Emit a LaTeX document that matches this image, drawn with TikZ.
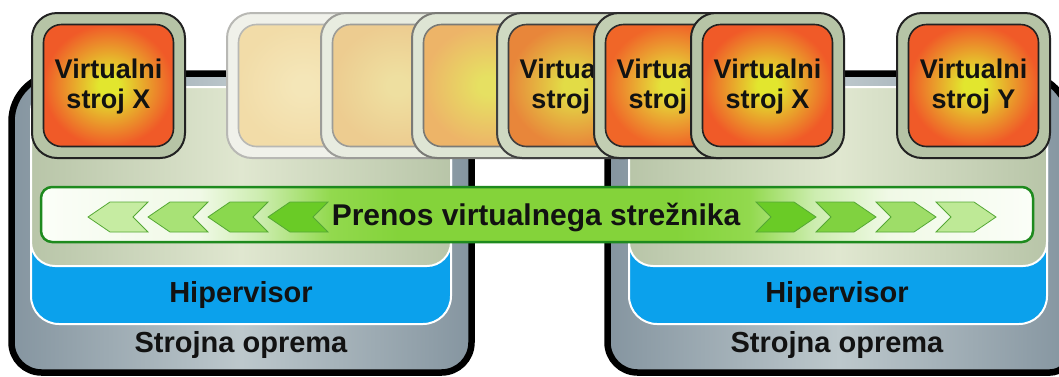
\documentclass[tikz,border=0pt]{standalone}
\usepackage{fontspec}
\setmainfont{Liberation Sans}

% hardware, hypervisor and VM layer colours
\definecolor{hwedge}{HTML}{8595A0}
\definecolor{hwmid}{HTML}{BDC8CC}
\definecolor{layeredge}{HTML}{B8C5A8}
\definecolor{layermid}{HTML}{E0E7D0}
\definecolor{hvblue}{HTML}{0BA1EC}
% migration banner
\definecolor{bannerline}{HTML}{1E8A1E}
\definecolor{chevline}{HTML}{55A835}
\definecolor{bnA}{HTML}{FBFEF8}
\definecolor{bnB}{HTML}{F0F9E6}
\definecolor{bnC}{HTML}{CDEDB0}
\definecolor{bnD}{HTML}{92D94E}
\definecolor{bnE}{HTML}{84D33A}
\definecolor{chevA}{HTML}{C6ECA2}
\definecolor{chevB}{HTML}{A8E276}
\definecolor{chevC}{HTML}{8AD84E}
\definecolor{chevD}{HTML}{6ACB26}
\definecolor{chevE}{HTML}{80D240}
\definecolor{chevF}{HTML}{9EDD68}
\definecolor{chevG}{HTML}{BEE996}
% virtual machine boxes, from faint copies to the solid machine
\definecolor{frX}{HTML}{B6C4A6}\definecolor{lnX}{HTML}{222222}
\definecolor{coreX}{HTML}{F05A28}\definecolor{midX}{HTML}{E2E62E}
\definecolor{frA}{HTML}{F0F1EA}\definecolor{lnA}{HTML}{B8B8B4}
\definecolor{coreA}{HTML}{F2DCA8}\definecolor{midA}{HTML}{F4E6B8}
\definecolor{frB}{HTML}{E8ECE0}\definecolor{lnB}{HTML}{9C9C98}
\definecolor{coreB}{HTML}{EDCC90}\definecolor{midB}{HTML}{EEDFA0}
\definecolor{frC}{HTML}{DEE5D4}\definecolor{lnC}{HTML}{7A7A76}
\definecolor{coreC}{HTML}{EDB468}\definecolor{midC}{HTML}{E6E062}
\definecolor{frD}{HTML}{CFD9C2}\definecolor{lnD}{HTML}{404040}
\definecolor{coreD}{HTML}{E8863A}\definecolor{midD}{HTML}{E2DC46}
\definecolor{frE}{HTML}{C2CEB2}\definecolor{lnE}{HTML}{2A2A2A}
\definecolor{coreE}{HTML}{F06628}\definecolor{midE}{HTML}{E4E23A}
\colorlet{vmin}{midX}
\colorlet{vmout}{coreX}

\pgfdeclarehorizontalshading{bannerfill}{100bp}{%
  color(0bp)=(bnA); color(25bp)=(bnA); color(33bp)=(bnB); color(36bp)=(bnC);
  color(39.6bp)=(bnD); color(43bp)=(bnE); color(57bp)=(bnE); color(60.7bp)=(bnD);
  color(64bp)=(bnC); color(67.7bp)=(bnB); color(75bp)=(bnA); color(100bp)=(bnA)}

\pgfdeclareradialshading[vmin,vmout]{vmglow}{\pgfpoint{0bp}{0bp}}{%
  color(0bp)=(vmin); color(4bp)=(vmin); color(25bp)=(vmout); color(50bp)=(vmout)}

\tikzset{
  hwbox/.style={draw=black, line width=6.5pt, left color=hwedge, right color=hwedge, middle color=hwmid},
  hvband/.style={draw=white, line width=2pt, fill=hvblue, rounded corners=28pt},
  vmlayer/.style={draw=white, line width=2pt, left color=layeredge, right color=layeredge,
    middle color=layermid, rounded corners=24pt},
  vmframe/.style={rectangle, rounded corners=25pt, line width=2pt, minimum width=153pt,
    minimum height=145pt, inner sep=0pt, anchor=north west},
  vmcore/.style={rectangle, rounded corners=18pt, line width=1.6pt, minimum width=130pt,
    minimum height=122pt, inner sep=0pt, shading=vmglow},
  vmlabel/.style={font=\bfseries\fontsize{27}{30}\selectfont, align=center, inner sep=0pt, text=black!93},
  layertext/.style={font=\bfseries\fontsize{29}{34}\selectfont, inner sep=0pt, anchor=base, text=black!93},
  bannertext/.style={font=\bfseries\fontsize{30}{34}\selectfont, inner sep=0pt, anchor=base, text=black!93},
  banner/.style={rectangle, rounded corners=11pt, draw=bannerline, line width=2.5pt,
    shading=bannerfill, minimum width=992pt, minimum height=55pt, inner sep=0pt},
  chevron/.style={draw=chevline, line width=0.8pt}
}

% one virtual machine: frame, glowing core and (optional) label
\newcommand\vmachine[7]{%
  \colorlet{vmin}{#6}\colorlet{vmout}{#5}%
  \node[vmframe, fill=#3, draw=#4] (#1) at (#2,12) {};
  \node[vmcore, draw=#4] (#1core) at (#1.center) {};
  \if\relax\detokenize{#7}\relax\else
    \node[vmlabel] (#1text) at ([yshift=-1.5pt]#1.center) {#7};
  \fi
}

\begin{document}
\begin{tikzpicture}[x=1pt, y=-1pt]
\useasboundingbox (0,0) rectangle (1059,376);
\clip (0,0) rectangle (1059,376);

% left host: hardware, hypervisor, VM layer
\draw[hwbox] (240,73.5) [rounded corners=48pt] -- (11.5,73.5) -- (11.5,220)
  [rounded corners=30pt] -- (11.5,372.5) -- (471.5,372.5) -- (471.5,220)
  [rounded corners=48pt] -- (471.5,73.5) -- cycle;
\draw[hvband] (31,87) rectangle (451,324);
\draw[vmlayer] (31,87) rectangle (451,266);
\node[layertext] (hvL) at (241,302) {Hipervisor};
\node[layertext] (hwL) at (241,352) {Strojna oprema};

% right host
\draw[hwbox] (830,73.5) [rounded corners=50pt] -- (607.5,73.5) -- (607.5,220)
  [rounded corners=30pt] -- (607.5,372.5) [rounded corners=20pt] -- (1070,372.5) -- (1070,220)
  [rounded corners=50pt] -- (1070,73.5) -- cycle;
\draw[hvband] (629,87) rectangle (1047,324);
\draw[vmlayer] (629,87) rectangle (1047,266);
\node[layertext] (hvR) at (837,302) {Hipervisor};
\node[layertext] (hwR) at (837,352) {Strojna oprema};

% migration banner with chevrons
\node[banner] (banner) at (537,214.5) {};
\foreach \x/\c in {88/chevA,148/chevB,208/chevC,268/chevD}
  \filldraw[chevron, fill=\c] (\x,217) -- (\x+22,202) -- (\x+60,202) -- (\x+45,217)
    -- (\x+60,232) -- (\x+22,232) -- cycle;
\foreach \x/\c in {756/chevD,816/chevE,876/chevF,936/chevG}
  \filldraw[chevron, fill=\c] (\x,202) -- (\x+38,202) -- (\x+60,217) -- (\x+38,232)
    -- (\x,232) -- (\x+15,217) -- cycle;
\node[bannertext] (moveText) at (536,225) {Prenos virtualnega strežnika};

% virtual machines
\vmachine{vmXa}{31}{frX}{lnX}{coreX}{midX}{Virtualni\\stroj X}
\vmachine{ghostA}{226}{frA}{lnA}{coreA}{midA}{}
\vmachine{ghostB}{320}{frB}{lnB}{coreB}{midB}{}
\vmachine{ghostC}{411}{frC}{lnC}{coreC}{midC}{}
\vmachine{ghostD}{496}{frD}{lnD}{coreD}{midD}{Virtualni\\stroj X}
\vmachine{ghostE}{593}{frE}{lnE}{coreE}{midE}{Virtualni\\stroj X}
\vmachine{vmXb}{690}{frX}{lnX}{coreX}{midX}{Virtualni\\stroj X}
\vmachine{vmY}{896}{frX}{lnX}{coreX}{midX}{Virtualni\\stroj Y}
\end{tikzpicture}
\end{document}
